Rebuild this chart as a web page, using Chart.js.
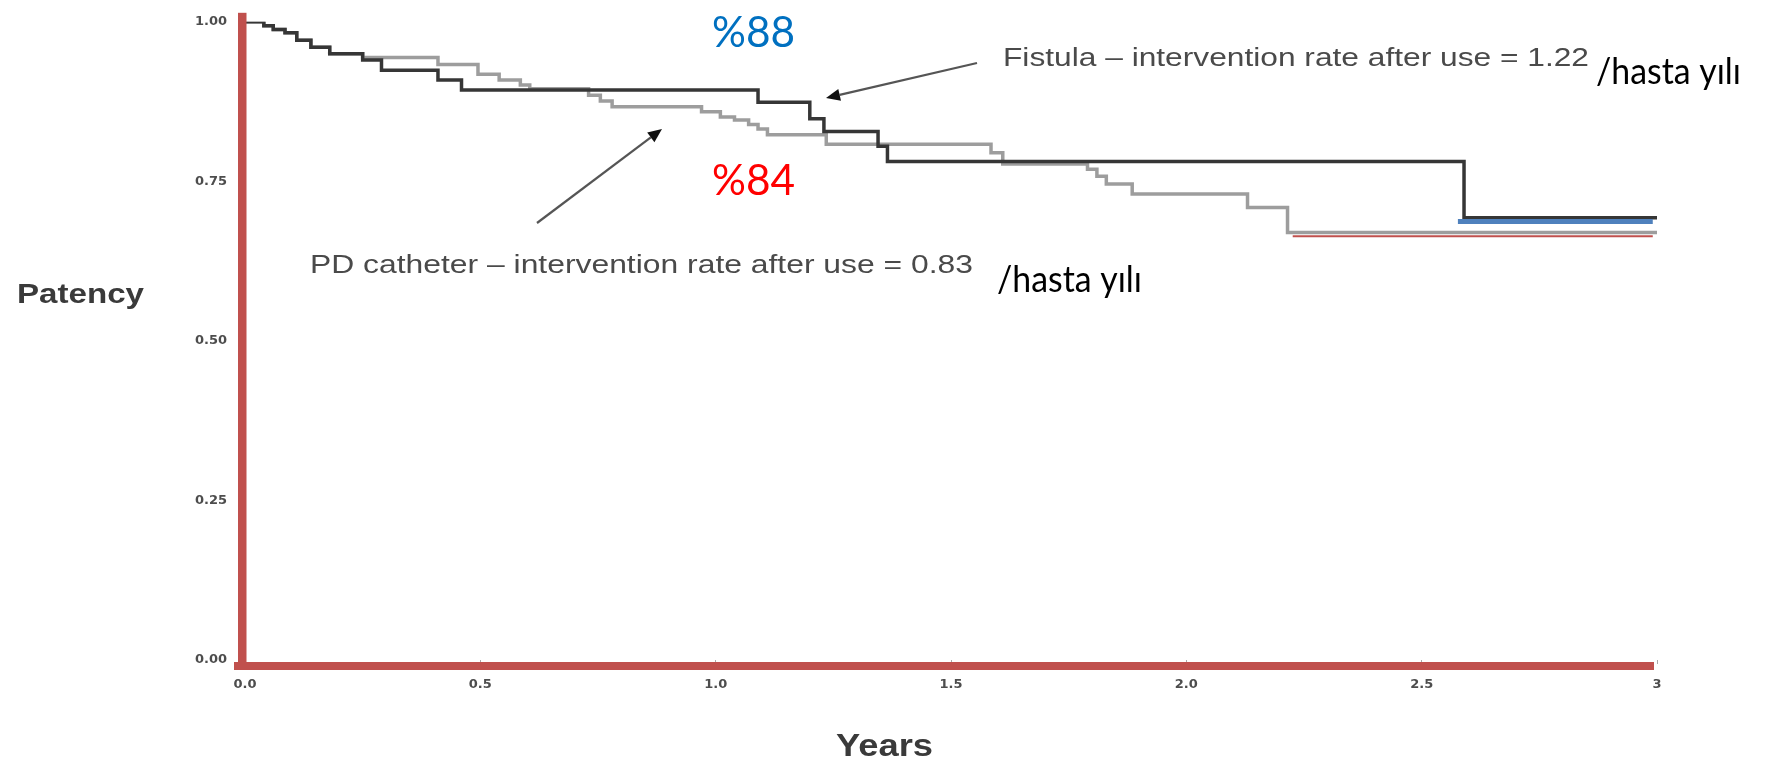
<!DOCTYPE html>
<html>
<head>
<meta charset="utf-8">
<script src="https://cdn.jsdelivr.net/npm/chart.js@4.4.1/dist/chart.umd.min.js"></script>
<style>
html,body{margin:0;padding:0;background:#ffffff;overflow:hidden}
#wrap{width:1767px;height:770px;position:relative}
</style>
</head>
<body>
<div id="wrap"><canvas id="c" width="1767" height="770"></canvas></div>
<script>
// ---- data ----
const fistulaTimes = [0, 0.04, 0.06, 0.085, 0.11, 0.14, 0.18, 0.25, 0.29, 0.41, 0.46, 1.09, 1.20, 1.23, 1.345, 1.365, 2.59, 3.0];
const fistulaSurv  = [1.0, 0.994, 0.988, 0.983, 0.971, 0.960, 0.950, 0.940, 0.924, 0.909, 0.893, 0.874, 0.848, 0.828, 0.805, 0.781, 0.693, 0.693];

const pdTimes = [0, 0.04, 0.06, 0.085, 0.11, 0.14, 0.18, 0.25, 0.41, 0.495, 0.54, 0.585, 0.605, 0.73, 0.755, 0.78, 0.97, 1.01, 1.04, 1.07, 1.09, 1.11, 1.235, 1.585, 1.61, 1.79, 1.81, 1.83, 1.885, 2.13, 2.215, 3.0];
const pdSurv  = [1.0, 0.994, 0.988, 0.983, 0.971, 0.960, 0.950, 0.944, 0.933, 0.918, 0.909, 0.901, 0.895, 0.885, 0.876, 0.867, 0.859, 0.851, 0.846, 0.839, 0.832, 0.823, 0.808, 0.795, 0.777, 0.769, 0.758, 0.746, 0.730, 0.709, 0.670, 0.670];

const blueMarkTimes  = [2.577, 2.991];
const blueMarkValues = [0.687, 0.687];
const redMarkTimes   = [2.226, 2.991];
const redMarkValues  = [0.664, 0.664];

const xTickValues = [0, 0.5, 1, 1.5, 2, 2.5, 3];
const xTickLabels = ["0.0", "0.5", "1.0", "1.5", "2.0", "2.5", "3"];
const yTickValues = [0, 0.25, 0.5, 0.75, 1];
const yTickLabels = ["0.00", "0.25", "0.50", "0.75", "1.00"];

const xTitle = "Years";
const yTitle = "Patency";
const fistulaNote = "Fistula \u2013 intervention rate after use = 1.22";
const pdNote = "PD catheter \u2013 intervention rate after use = 0.83";
const unitNote = "/hasta y\u0131l\u0131";
const fistulaPct = "%88";
const pdPct = "%84";

const toPoints = (xs, ys) => xs.map((x, i) => ({ x: x, y: ys[i] }));

function fitText(ctx, text, left, y, width, size, family, weight, color, baseline) {
  ctx.save();
  ctx.font = weight + ' ' + size + 'px ' + family;
  ctx.fillStyle = color;
  ctx.textBaseline = baseline;
  ctx.textAlign = 'left';
  const w = ctx.measureText(text).width;
  ctx.translate(left, y);
  ctx.scale(width / w, 1);
  ctx.fillText(text, 0, 0);
  ctx.restore();
}

function arrow(ctx, x1, y1, x2, y2) {
  const ang = Math.atan2(y2 - y1, x2 - x1);
  const len = 14, hw = 6;
  const bx = x2 - len * Math.cos(ang), by = y2 - len * Math.sin(ang);
  ctx.save();
  ctx.strokeStyle = '#555555';
  ctx.lineWidth = 2.2;
  ctx.beginPath();
  ctx.moveTo(x1, y1);
  ctx.lineTo(bx, by);
  ctx.stroke();
  ctx.fillStyle = '#111';
  ctx.beginPath();
  ctx.moveTo(x2, y2);
  ctx.lineTo(bx + hw * Math.sin(ang), by - hw * Math.cos(ang));
  ctx.lineTo(bx - hw * Math.sin(ang), by + hw * Math.cos(ang));
  ctx.closePath();
  ctx.fill();
  ctx.restore();
}

const overlay = {
  id: 'overlay',
  afterDatasetsDraw(chart) {
    const ctx = chart.ctx;
    const a = chart.chartArea;
    // red axis bars
    ctx.save();
    ctx.fillStyle = '#C0504D';
    ctx.fillRect(a.left - 7, a.top - 9, 8.5, a.bottom - a.top + 19);
    ctx.fillRect(a.left - 11, a.bottom + 2, a.right - a.left + 8, 8);
    ctx.restore();

    // arrows
    arrow(ctx, 977, 63, 826, 98);
    arrow(ctx, 537, 223, 662, 129);

    // annotation texts
    const gg = '"Liberation Sans", Arial, sans-serif';
    const cal = 'Lato, "Open Sans", sans-serif';
    fitText(ctx, fistulaNote, 1003, 59, 586, 25, gg, 'normal', '#4a4a4a', 'middle');
    fitText(ctx, pdNote, 310, 266, 663, 25, gg, 'normal', '#4a4a4a', 'middle');
    fitText(ctx, unitNote, 1596, 84, 145, 37, cal, 'normal', '#000000', 'alphabetic');
    fitText(ctx, unitNote, 997, 292, 145, 37, cal, 'normal', '#000000', 'alphabetic');
    fitText(ctx, fistulaPct, 712, 47, 83, 42, cal, 'normal', '#0070C0', 'alphabetic');
    fitText(ctx, pdPct, 712, 195, 83, 42, cal, 'normal', '#FF0000', 'alphabetic');
    fitText(ctx, yTitle, 17, 295, 127, 28, gg, 'bold', '#3a3a3a', 'middle');
    fitText(ctx, xTitle, 836, 747, 97, 31, gg, 'bold', '#3a3a3a', 'middle');
  }
};

const tickFont = { family: '"DejaVu Sans", sans-serif', size: 13, weight: 'bold' };

new Chart(document.getElementById('c').getContext('2d'), {
  type: 'line',
  data: {
    datasets: [
      { label: 'blue mark', data: toPoints(blueMarkTimes, blueMarkValues), borderColor: '#4F81BD', borderWidth: 5, pointRadius: 0, fill: false },
      { label: 'red mark', data: toPoints(redMarkTimes, redMarkValues), borderColor: '#C0504D', borderWidth: 2, pointRadius: 0, fill: false },
      { label: 'Fistula', data: toPoints(fistulaTimes, fistulaSurv), borderColor: '#363636', borderWidth: 3.5, stepped: 'before', pointRadius: 0, fill: false },
      { label: 'PD catheter', data: toPoints(pdTimes, pdSurv), borderColor: '#9d9d9d', borderWidth: 3.5, stepped: 'before', pointRadius: 0, fill: false }
    ]
  },
  options: {
    responsive: false,
    animation: false,
    devicePixelRatio: 1,
    layout: { padding: { left: 0, right: 110, top: 14, bottom: 0 } },
    plugins: { legend: { display: false }, tooltip: { enabled: false }, title: { display: false } },
    elements: { line: { tension: 0, borderCapStyle: 'butt', borderJoinStyle: 'miter' } },
    scales: {
      x: {
        type: 'linear', min: 0, max: 3,
        afterBuildTicks: (s) => { s.ticks = xTickValues.map(v => ({ value: v })); },
        afterFit: (s) => { s.height = 110; },
        ticks: { callback: (v, i) => xTickLabels[i], font: tickFont, color: '#4d4d4d', padding: 13, maxRotation: 0, autoSkip: false },
        grid: { display: true, drawOnChartArea: false, drawTicks: true, tickLength: 4, color: '#aaaaaa' },
        border: { display: false }
      },
      y: {
        type: 'linear', min: 0, max: 1,
        afterBuildTicks: (s) => { s.ticks = yTickValues.map(v => ({ value: v })); },
        afterFit: (s) => { s.width = 245; },
        ticks: { callback: (v, i) => yTickLabels[i], font: tickFont, color: '#4d4d4d', padding: 14, autoSkip: false },
        grid: { display: true, drawOnChartArea: false, drawTicks: true, tickLength: 4, color: '#aaaaaa' },
        border: { display: false }
      }
    }
  },
  plugins: [overlay]
});
</script>
</body>
</html>
